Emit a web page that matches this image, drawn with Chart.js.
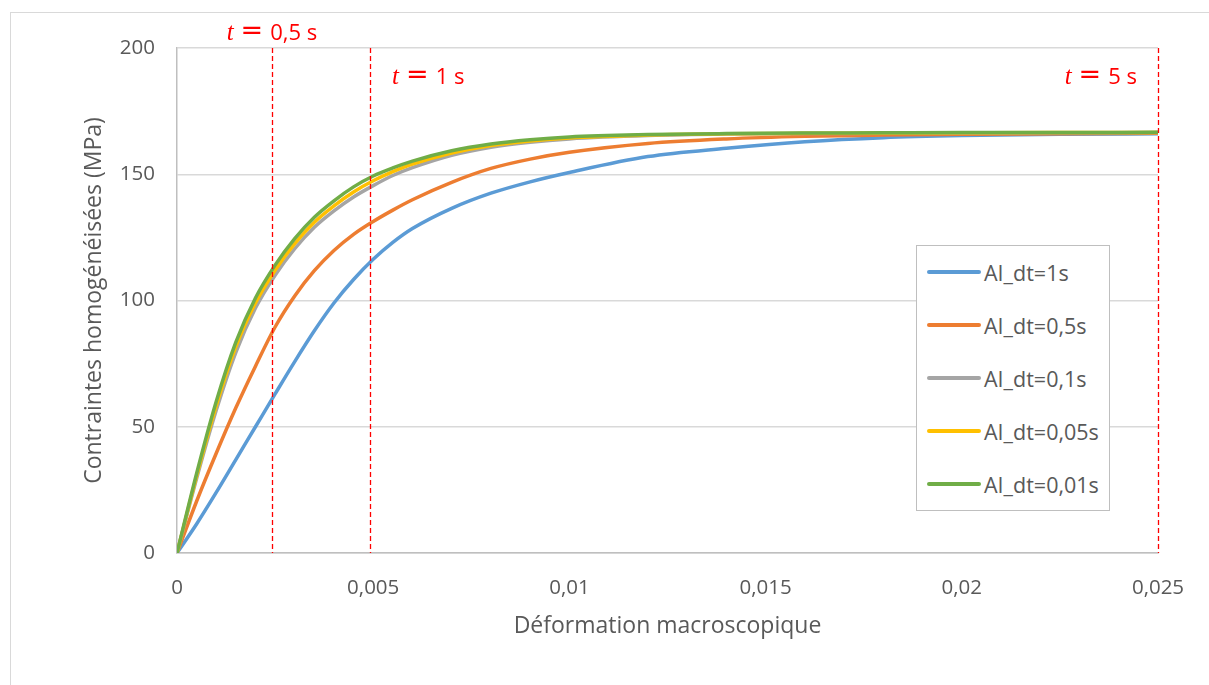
<!DOCTYPE html>
<html>
<head>
<meta charset="utf-8">
<script src="https://cdn.jsdelivr.net/npm/chart.js@4"></script>
<style>
    html, body { margin: 0; padding: 0; background: #fff; }
    #frame {
        position: absolute; left: 10px; top: 12px; width: 1300px; height: 800px;
        border-left: 1px solid #d9d9d9; border-top: 1px solid #d9d9d9;
    }
    #wrap { position: absolute; left: 0; top: 0; width: 1209px; height: 685px; }
    #legend {
        position: absolute; left: 916px; top: 245px; width: 192px; height: 264px;
        border: 1.5px solid #bfbfbf; background: #fff;
        font-family: "Open Sans", sans-serif; font-size: 21.5px; color: #595959;
    }
    .item { position: absolute; left: 10px; height: 26px; display: flex; align-items: center; }
    .swatch { width: 54px; height: 3.5px; border-radius: 2px; margin-right: 3px; }
</style>
</head>
<body>
<div id="frame"></div>
<div id="wrap"><canvas id="stressChart" width="1209" height="685"></canvas></div>
<div id="legend"></div>
<script>
// Strain values (shared by every series)
const strain = [0, 0.0005, 0.001, 0.0015, 0.002, 0.0025, 0.003, 0.0035, 0.004, 0.0045, 0.005,
    0.0055, 0.006, 0.007, 0.008, 0.009, 0.01, 0.012, 0.014, 0.016, 0.018, 0.02, 0.0225, 0.025];

// Homogenised stress (MPa) for each time step
const dt1   = [0, 11.5, 24, 37, 50, 63, 75.8, 88, 99, 108.3, 116.3,
    123, 128.5, 136.5, 142.5, 147, 150.7, 157, 160.3, 162.9, 164.5, 165.3, 165.8, 166];
const dt05  = [0, 20.5, 39.5, 57.5, 74, 89.5, 101.8, 111.8, 119.8, 126.2, 131.3,
    135.8, 139.9, 146.8, 152.3, 156, 158.7, 162.2, 164, 165, 165.5, 165.8, 166, 166.2];
const dt01  = [0, 29.5, 56.5, 79.5, 97, 110, 120.5, 129, 135.5, 141, 145.5,
    149.5, 152.6, 157.5, 160.7, 162.7, 164, 165.3, 165.9, 166.1, 166.2, 166.3, 166.4, 166.5];
const dt005 = [0, 30.5, 58.3, 81.7, 99, 112, 122.5, 131, 137.5, 143, 147.4,
    151, 154, 158.4, 161.4, 163.2, 164.4, 165.5, 166, 166.2, 166.3, 166.4, 166.5, 166.5];
const dt001 = [0, 31.5, 60, 83.5, 101, 114, 124.5, 133, 139.5, 145, 149.3,
    152.5, 155.2, 159.3, 162, 163.7, 164.8, 165.7, 166.1, 166.3, 166.4, 166.5, 166.5, 166.6];

const seriesLabels = ['AI_dt=1s', 'AI_dt=0,5s', 'AI_dt=0,1s', 'AI_dt=0,05s', 'AI_dt=0,01s'];
const seriesValues = [dt1, dt05, dt01, dt005, dt001];
const seriesColors = ['#5b9bd5', '#ed7d31', '#a5a5a5', '#ffc000', '#70ad47'];

// Axis ticks
const xTicks = [0, 0.005, 0.01, 0.015, 0.02, 0.025];
const yTicks = [0, 50, 100, 150, 200];

// Time markers (dashed red lines)
const markerStrain = [0.00242, 0.00492, 0.025];
const markerLabels = ['0,5 s', '1 s', '5 s'];

const fontFamily = '"Open Sans", sans-serif';
const textGrey = '#595959';

function fmt(v) {
    return String(v).replace('.', ',');
}

// Draws the dashed lines and the "t = ..." labels
const markerPlugin = {
    id: 'markers',
    afterDatasetsDraw(chart) {
        const c = chart.ctx;
        const area = chart.chartArea;
        const xs = chart.scales.x;
        c.save();
        c.strokeStyle = '#ff0000';
        c.lineWidth = 1.3;
        c.setLineDash([5, 3]);
        markerStrain.forEach(s => {
            const px = Math.round(xs.getPixelForValue(s)) + 0.5;
            c.beginPath();
            c.moveTo(px, area.top);
            c.lineTo(px, area.bottom);
            c.stroke();
        });
        c.setLineDash([]);
        c.fillStyle = '#ff0000';
        c.textBaseline = 'alphabetic';
        const tFont = 'italic 25px "Liberation Serif", serif';
        const eqFont = '27px "DejaVu Sans", sans-serif';
        const numFont = '22px ' + fontFamily;
        markerLabels.forEach((lbl, i) => {
            const px = xs.getPixelForValue(markerStrain[i]);
            c.font = tFont;
            const tw = c.measureText('t').width;
            c.font = eqFont;
            const ew = c.measureText('=').width;
            c.font = numFont;
            const nw = c.measureText(lbl).width;
            const total = tw + 7 + ew + 7 + nw;
            let x0, y0;
            if (i === 0) { x0 = px - total / 2; y0 = 40; }
            else if (i === 1) { x0 = px + 22; y0 = 84; }
            else { x0 = px - 21 - total; y0 = 84; }
            c.font = tFont;
            c.fillText('t', x0, y0);
            c.font = eqFont;
            c.fillText('=', x0 + tw + 7, y0 - 1);
            c.font = numFont;
            c.fillText(lbl, x0 + tw + 7 + ew + 7, y0);
        });
        c.restore();
    }
};

const datasets = seriesLabels.map((label, i) => ({
    label: label,
    data: strain.map((s, j) => ({ x: s, y: seriesValues[i][j] })),
    borderColor: seriesColors[i],
    backgroundColor: seriesColors[i],
    borderWidth: 3.5,
    pointRadius: 0,
    cubicInterpolationMode: 'monotone',
    order: seriesLabels.length - i  // last series drawn on top, like Excel
}));

const ctx = document.getElementById('stressChart').getContext('2d');
const chart = new Chart(ctx, {
    type: 'line',
    data: { datasets: datasets },
    options: {
        responsive: false,
        animation: false,
        layout: {
            padding: { top: 48, right: 51, bottom: 0, left: 0 }
        },
        scales: {
            x: {
                type: 'linear',
                min: 0,
                max: 0.025,
                afterFit: s => { s.height = 132; },
                afterBuildTicks: s => { s.ticks = xTicks.map(v => ({ value: v })); },
                grid: { display: false, drawTicks: false },
                border: { color: '#bfbfbf', width: 1.5 },
                ticks: {
                    padding: 23,
                    color: textGrey,
                    font: { family: fontFamily, size: 20.5 },
                    maxRotation: 0,
                    callback: v => fmt(v)
                },
                title: {
                    display: true,
                    text: 'Déformation macroscopique',
                    color: textGrey,
                    font: { family: fontFamily, size: 23 },
                    padding: { top: 0, bottom: 45 }
                }
            },
            y: {
                min: 0,
                max: 200,
                afterFit: s => { s.width = 177; },
                afterBuildTicks: s => { s.ticks = yTicks.map(v => ({ value: v })); },
                grid: { color: '#d9d9d9', lineWidth: 1.5, drawTicks: false },
                border: { color: '#bfbfbf', width: 1.5 },
                ticks: {
                    padding: 22,
                    color: textGrey,
                    font: { family: fontFamily, size: 20.5 },
                    callback: v => fmt(v)
                },
                title: {
                    display: true,
                    text: 'Contraintes homogénéisées (MPa)',
                    color: textGrey,
                    font: { family: fontFamily, size: 23 },
                    padding: { top: 81, bottom: 0 }
                }
            }
        },
        plugins: {
            legend: { display: false },
            tooltip: { enabled: false }
        }
    },
    plugins: [markerPlugin]
});

// Boxed legend inside the plot
const legendBox = document.getElementById('legend');
seriesLabels.forEach((label, i) => {
    const item = document.createElement('div');
    item.className = 'item';
    item.style.top = (13 + i * 53) + 'px';
    item.innerHTML = '<span class="swatch" style="background:' + seriesColors[i] + '"></span>' + label;
    legendBox.appendChild(item);
});
</script>
</body>
</html>
